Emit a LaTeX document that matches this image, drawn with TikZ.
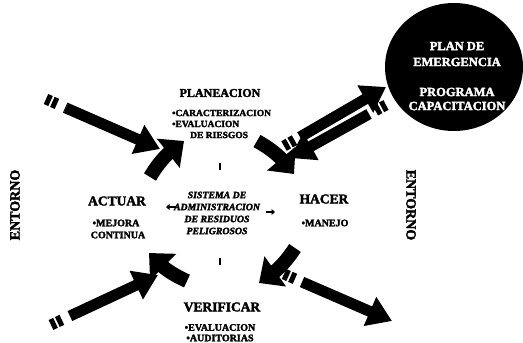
\documentclass[tikz,border=0pt]{standalone}
\usepackage{fontspec}
\setmainfont{Liberation Serif}[BoldFeatures={FakeBold=2.5},BoldItalicFeatures={FakeBold=2.5}]
\usetikzlibrary{arrows.meta,bending,shapes.geometric}

\tikzset{
  head/.style={font=\bfseries\fontsize{13.5}{14}\selectfont, inner sep=0pt},
  item/.style={font=\bfseries\fontsize{10}{10}\selectfont, inner sep=0pt},
  core/.style={font=\bfseries\itshape\fontsize{9.8}{12}\selectfont, inner sep=0pt, align=center},
  side/.style={font=\bfseries\fontsize{14}{14}\selectfont, inner sep=0pt},
  inner/.style={font=\bfseries\fontsize{12.5}{13}\selectfont, text=white, inner sep=0pt},
  bigarrow/.style={line width=11pt, -{Triangle[length=24pt,width=30pt]}},
  cyclearrow/.style={line width=14pt, -{Triangle[length=20pt,width=36pt]}},
  feathers/.style={line width=11pt, dash pattern=on 5pt off 2pt on 5pt off 9pt},
  tick/.style={line width=2.5pt},
  tinyarrow/.style={line width=1.8pt, -{Triangle[length=3.5pt,width=6pt]}}
}

\begin{document}
\begin{tikzpicture}[x=1pt,y=-1pt]
\useasboundingbox (0,0) rectangle (523,343);
\clip (0,0) rectangle (523,343);

% emergency / training disc
\node[ellipse, fill=black, minimum width=138pt, minimum height=128pt, inner sep=0pt] (disc) at (454,67) {};
\node[inner] (d1) at (457,46) {PLAN DE};
\node[inner] (d2) at (457,62) {EMERGENCIA};
\node[inner] (d3) at (457,92) {PROGRAMA};
\node[inner] (d4) at (457,106) {CAPACITACION};

% PDCA stages
\node[head, font=\bfseries\fontsize{12}{13}\selectfont] (plan) at (220,93) {PLANEACION};
\node[item, font=\bfseries\fontsize{9.5}{10}\selectfont, anchor=west] (plan1) at (172,113) {•CARACTERIZACION};
\node[item, font=\bfseries\fontsize{9.5}{10}\selectfont, anchor=west] (plan2) at (172,124) {•EVALUACION};
\node[item, font=\bfseries\fontsize{9.5}{10}\selectfont, anchor=west] (plan3) at (190,135) {DE RIESGOS};

\node[head] (act) at (117,201) {ACTUAR};
\node[item] (act1) at (116,223) {•MEJORA};
\node[item] (act2) at (118,235) {CONTINUA};

\node[head] (hac) at (324,199) {HACER};
\node[item] (hac1) at (325,223) {•MANEJO};

\node[head] (ver) at (222,307) {VERIFICAR};
\node[item] (ver1) at (220,327.5) {•EVALUACION};
\node[item] (ver2) at (220,338) {•AUDITORIAS};

\node[core] (core) at (217,213) {SISTEMA DE\\ADMINISTRACION\\DE RESIDUOS\\PELIGROSOS};

% surroundings
\node[side, rotate=90] (envL) at (15,205) {ENTORNO};
\node[side, rotate=-90] (envR) at (411,205) {ENTORNO};

% small marks around the core
\coordinate (mt1) at (220,163); \coordinate (mt2) at (220,170);
\coordinate (mb1) at (220,258); \coordinate (mb2) at (220,265);
\coordinate (ml1) at (176,207); \coordinate (ml2) at (166,207);
\coordinate (mr1) at (266,212); \coordinate (mr2) at (275,212);
\draw[tick] (mt1) -- (mt2);
\draw[tick] (mb1) -- (mb2);
\draw[tinyarrow] (ml1) -- (ml2);
\draw[tinyarrow] (mr1) -- (mr2);

% cycle arrows
\coordinate (a0) at (150,177); \coordinate (a1) at (184,141);
\coordinate (b0) at (257,141); \coordinate (b1) at (294,174);
\coordinate (c0) at (295,248); \coordinate (c1) at (259,283);
\coordinate (e0) at (187,281); \coordinate (e1) at (149,253);
\draw[cyclearrow] (a0) to[bend left=12] (a1);
\draw[cyclearrow] (b0) to[bend left=12] (b1);
\draw[cyclearrow] (c0) to[bend left=12] (c1);
\draw[cyclearrow] (e0) to[bend left=12] (e1);

% arrows from the surroundings
\coordinate (p0) at (46,99); \coordinate (p1) at (66,108); \coordinate (p2) at (160,149);
\draw[feathers] (p0) -- (p1);
\draw[bigarrow] (p1) -- (p2);

\coordinate (q0) at (51,325); \coordinate (q1) at (70,316); \coordinate (q2) at (158,275);
\draw[feathers] (q0) -- (q1);
\draw[bigarrow] (q1) -- (q2);

\coordinate (r0) at (284,274); \coordinate (r1) at (302,282); \coordinate (r2) at (392,321);
\draw[feathers] (r0) -- (r1);
\draw[bigarrow] (r1) -- (r2);

% exchange with the disc
\coordinate (u0) at (284,146); \coordinate (u1) at (300,137); \coordinate (u2) at (386,87);
\draw[feathers] (u0) -- (u1);
\draw[bigarrow] (u1) -- (u2);

\coordinate (v0) at (386,105); \coordinate (v1) at (369,114); \coordinate (v2) at (290,158);
\draw[feathers] (v0) -- (v1);
\draw[bigarrow] (v1) -- (v2);
\end{tikzpicture}
\end{document}
